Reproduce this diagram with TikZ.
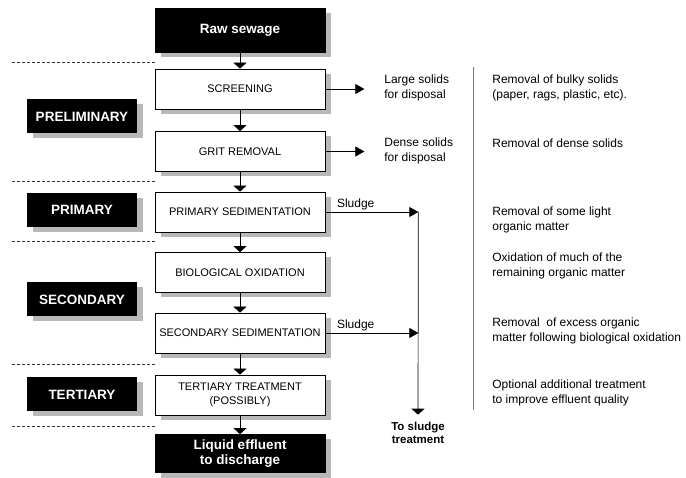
\documentclass[tikz,border=0pt]{standalone}
\usepackage{fontspec}
\setmainfont{Liberation Sans}
\usetikzlibrary{arrows.meta, shadows, positioning}

\begin{document}
\begin{tikzpicture}[x=1pt, y=-1pt, node distance=60.5pt, line width=.7pt,
  shade/.style={drop shadow={shadow xshift=6pt, shadow yshift=-5pt, fill=black!28, opacity=1}},
  stage/.style={draw, fill=white, minimum width=170pt, minimum height=40pt, inner sep=2pt, align=center, font=\fontsize{11}{14}\selectfont, shade},
  term/.style={stage, fill=black, text=white, font=\fontsize{13.5}{15}\selectfont\bfseries},
  phase/.style={fill=black, text=white, minimum width=110pt, minimum height=34pt, font=\fontsize{13.5}{15}\selectfont\bfseries, shade},
  note/.style={anchor=west, align=left, inner sep=0pt, font=\fontsize{12}{15}\selectfont},
  sep/.style={dash pattern=on 3pt off 2pt, line width=.6pt, black!80},
  flow/.style={-{Triangle[width=13pt,length=6pt]}},
  sidearrow/.style={-{Triangle[width=10pt,length=9pt]}}]
\useasboundingbox (0,0) rectangle (686,478);

% process column
\node[term, minimum height=44pt] (raw) at (240,30) {Raw sewage};
\node[stage] (screen) [below of=raw, yshift=1.5pt] {SCREENING};
\node[stage] (grit) [below of=screen, yshift=-2pt] {GRIT REMOVAL};
\node[stage] (psed) [below of=grit] {PRIMARY SEDIMENTATION};
\node[stage] (biox) [below of=psed] {BIOLOGICAL OXIDATION};
\node[stage] (ssed) [below of=biox] {SECONDARY SEDIMENTATION};
\node[stage] (tert) [below of=ssed, yshift=-1.5pt] {TERTIARY TREATMENT\\(POSSIBLY)};
\node[term, minimum height=38pt] (eff) [below of=tert, yshift=2pt] {Liquid effluent\\to discharge};

% phases
\node[phase] (prelim) at (82,116.5) {PRELIMINARY};
\node[phase] (prim) at (82,210) {PRIMARY};
\node[phase] (sec) at (82,299.5) {SECONDARY};
\node[phase] (tertlab) at (82,394.5) {TERTIARY};
\foreach \y in {62,181,241,364,426}
  \draw[sep] (12,\y) -- (155,\y);

\foreach \a/\b in {raw/screen, screen/grit, grit/psed, psed/biox, biox/ssed, ssed/tert, tert/eff}
  \draw[flow] (\a.south) -- (\b.north);

% solids out
\coordinate[right=39pt of screen.east] (lgtip);
\coordinate[right=39pt of grit.east] (dstip);
\draw[sidearrow] (screen.east) -- (lgtip);
\draw[sidearrow] (grit.east) -- (dstip);
\node[note] (large) at (384,87.5) {Large solids\\for disposal};
\node[note] (dense) at (384,150.5) {Dense solids\\for disposal};

% sludge
\coordinate[right=93pt of psed.east] (sj1);
\coordinate[right=93pt of ssed.east] (sj2);
\node[align=center, inner sep=1pt, font=\fontsize{11.5}{13.5}\selectfont\bfseries] (totreat) at (418,433) {To sludge\\treatment};
\draw[sidearrow] (psed.east) -- node[above right, pos=.1, inner sep=2pt, font=\fontsize{12}{14}\selectfont] {Sludge} (sj1);
\draw[sidearrow] (ssed.east) -- node[above right, pos=.1, inner sep=2pt, font=\fontsize{12}{14}\selectfont] {Sludge} (sj2);
\draw[flow, shorten >=6pt] (sj1) -- (totreat.north);

% descriptions
\draw[black!55, line width=1pt] (473,67) -- (473,410);
\node[note] (d1) at (492,87.5) {Removal of bulky solids\\(paper, rags, plastic, etc).};
\node[note] (d2) at (492,143) {Removal of dense solids};
\node[note] (d3) at (492,219.5) {Removal of some light\\organic matter};
\node[note] (d4) at (492,265.5) {Oxidation of much of the\\remaining organic matter};
\node[note] (d5) at (492,331) {Removal~ of excess organic\\matter following biological oxidation};
\node[note] (d6) at (492,392.5) {Optional additional treatment\\to improve effluent quality};
\end{tikzpicture}
\end{document}
